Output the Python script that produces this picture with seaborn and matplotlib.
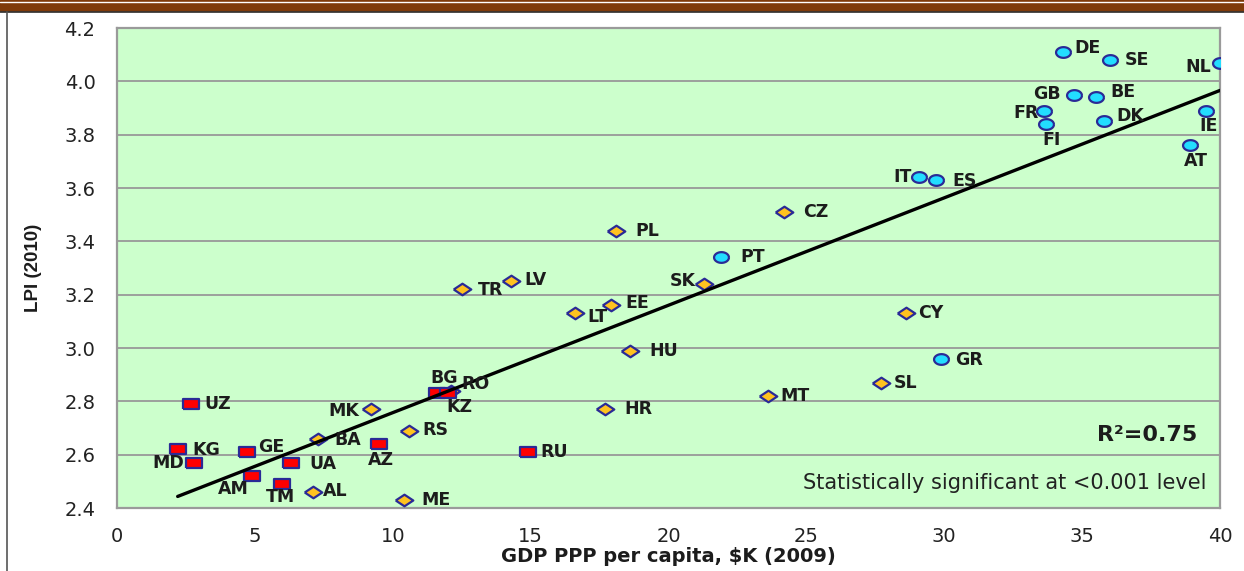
import numpy as np
import pandas as pd
import matplotlib
matplotlib.use('Agg')
import matplotlib.pyplot as plt
from matplotlib.patches import Rectangle
from matplotlib.lines import Line2D
import seaborn as sns

# ── Data ─────────────────────────────────────────────────────
countries = ['DE', 'SE', 'NL', 'GB', 'BE', 'FR', 'FI', 'DK', 'IE', 'AT',
             'IT', 'ES', 'PT', 'GR',
             'CZ', 'PL', 'LV', 'TR', 'SK', 'EE', 'LT', 'HU', 'CY', 'SL',
             'MT', 'HR', 'MK', 'RS', 'BA', 'AL', 'ME', 'RO',
             'UZ', 'KG', 'MD', 'GE', 'UA', 'AM', 'TM', 'AZ', 'RU', 'BG', 'KZ']
gdp = [34.3, 36.0, 40.0, 34.7, 35.5, 33.6, 33.7, 35.8, 39.5, 38.9,
       29.1, 29.7, 21.9, 29.9,
       24.2, 18.1, 14.3, 12.5, 21.3, 17.9, 16.6, 18.6, 28.6, 27.7,
       23.6, 17.7, 9.2, 10.6, 7.3, 7.1, 10.4, 12.1,
       2.7, 2.2, 2.8, 4.7, 6.3, 4.9, 6.0, 9.5, 14.9, 11.6, 12.0]
lpi = [4.11, 4.08, 4.07, 3.95, 3.94, 3.89, 3.84, 3.85, 3.89, 3.76,
       3.64, 3.63, 3.34, 2.96,
       3.51, 3.44, 3.25, 3.22, 3.24, 3.16, 3.13, 2.99, 3.13, 2.87,
       2.82, 2.77, 2.77, 2.69, 2.66, 2.46, 2.43, 2.84,
       2.79, 2.62, 2.57, 2.61, 2.57, 2.52, 2.49, 2.64, 2.61, 2.83, 2.83]
groups = ['EU15'] * 14 + ['NMS'] * 18 + ['CIS'] * 11

# label offsets in pixels (dx, dy, ha)
label_pos = {
    'DE': (12, 4, 'left'), 'SE': (15, 0, 'left'), 'NL': (-9, -4, 'right'),
    'GB': (-13, 1, 'right'), 'BE': (14, 5, 'left'), 'FR': (-5, -2, 'right'),
    'FI': (5, -16, 'center'), 'DK': (12, 5, 'left'), 'IE': (2, -15, 'center'),
    'AT': (6, -16, 'center'), 'IT': (-8, 0, 'right'), 'ES': (16, -1, 'left'),
    'PT': (19, 0, 'left'), 'GR': (14, -1, 'left'), 'CZ': (19, 0, 'left'),
    'PL': (19, 0, 'left'), 'LV': (13, 1, 'left'), 'TR': (16, -1, 'left'),
    'SK': (-9, 3, 'right'), 'EE': (15, 2, 'left'), 'LT': (13, -4, 'left'),
    'HU': (19, 0, 'left'), 'CY': (12, 0, 'left'), 'SL': (13, 0, 'left'),
    'MT': (13, 0, 'left'), 'HR': (19, 0, 'left'), 'MK': (-11, -2, 'right'),
    'RS': (13, 1, 'left'), 'BA': (16, -1, 'left'), 'AL': (10, 1, 'left'),
    'ME': (18, 0, 'left'), 'RO': (11, 7, 'left'), 'UZ': (13, 0, 'left'),
    'KG': (15, -1, 'left'), 'MD': (-10, 0, 'right'), 'GE': (12, 5, 'left'),
    'UA': (19, -1, 'left'), 'AM': (-3, -13, 'right'), 'TM': (-2, -13, 'center'),
    'AZ': (2, -16, 'center'), 'RU': (13, 0, 'left'), 'BG': (7, 15, 'center'),
    'KZ': (11, -14, 'center'),
}

df = pd.DataFrame({'country': countries, 'gdp': gdp, 'lpi': lpi, 'group': groups})

# ── Style ────────────────────────────────────────────────────
sns.set_style('white')
plt.rcParams['font.family'] = ['DejaVu Sans']

fig = plt.figure(figsize=(12.44, 5.71), dpi=100)
ax = fig.add_axes([117 / 1244, 1 - 508 / 571, 1103 / 1244, 480 / 571])
ax.set_facecolor('#ccffcc')

# markers are a bit wider than tall, like in the original
t = np.linspace(0, 2 * np.pi, 40)
ellipse = list(zip(np.cos(t), 0.72 * np.sin(t)))
markers = {
    'EU15': ellipse,
    'NMS': [(-1, 0), (0, 0.66), (1, 0), (0, -0.66), (-1, 0)],
    'CIS': [(-1, -0.66), (1, -0.66), (1, 0.66), (-1, 0.66), (-1, -0.66)],
}
palette = {'EU15': '#22ddff', 'NMS': '#ffc21f', 'CIS': '#ff0000'}
sizes = {'EU15': 115, 'NMS': 160, 'CIS': 130}

for g in ['NMS', 'CIS', 'EU15']:
    sub = df[df['group'] == g]
    sns.scatterplot(data=sub, x='gdp', y='lpi', marker=markers[g],
                    color=palette[g], edgecolor='#2a2a96', linewidth=1.6,
                    s=sizes[g], ax=ax, zorder=4, legend=False)

# regression line over data range
sns.regplot(data=df, x='gdp', y='lpi', scatter=False, ci=None,
            color='black', line_kws={'linewidth': 2.4, 'zorder': 5}, ax=ax)

for c, x, y in zip(countries, gdp, lpi):
    dx, dy, ha = label_pos[c]
    ax.annotate(c, (x, y), xytext=(dx * 0.72, dy * 0.72),
                textcoords='offset points', ha=ha, va='center',
                fontsize=12.5, fontweight='bold', color='#1c1c1c', zorder=6)

ax.set_xlim(0, 40)
ax.set_ylim(2.4, 4.2)
ax.set_xticks(np.arange(0, 41, 5))
ax.set_yticks(np.arange(2.4, 4.21, 0.2))
ax.set_yticklabels([f'{v:.1f}' for v in np.arange(2.4, 4.21, 0.2)])
ax.grid(axis='y', color='#999999', linewidth=1.3)
ax.set_axisbelow(True)
for s in ax.spines.values():
    s.set_color('#9a9a9a')
    s.set_linewidth(1.6)
ax.tick_params(axis='both', direction='out', length=6.5, width=1.2,
               color='#9a9a9a', labelsize=14, labelcolor='#222222')
ax.tick_params(axis='y', pad=9)
ax.tick_params(axis='x', pad=7)

ax.set_xlabel('GDP PPP per capita, $K (2009)', fontsize=14,
              fontweight='bold', color='#1c1c1c', labelpad=1)
ax.set_ylabel('LPI (2010)', fontsize=13.5, fontweight='bold',
              color='#1c1c1c', labelpad=16, family='Liberation Sans')

ax.text(0.979, 0.152, 'R²=0.75', transform=ax.transAxes, ha='right',
        va='center', fontsize=16, fontweight='bold', color='#1c1c1c')
ax.text(0.988, 0.052, 'Statistically significant at <0.001 level',
        transform=ax.transAxes, ha='right', va='center', fontsize=15,
        color='#222222')

# page decoration: brown band on top, thin frame line on the left
fig.add_artist(Rectangle((0, 1 - 11 / 571), 1, 11 / 571,
                         transform=fig.transFigure, color='#7f3a0a', zorder=0))
fig.add_artist(Line2D([0, 1], [1 - 2 / 571] * 2, transform=fig.transFigure,
                      color='white', linewidth=1))
fig.add_artist(Line2D([0, 1], [1 - 12 / 571] * 2, transform=fig.transFigure,
                      color='#333333', linewidth=1.2))
fig.add_artist(Line2D([7 / 1244] * 2, [0, 1 - 12 / 571],
                      transform=fig.transFigure, color='#555555', linewidth=1.2))

fig.savefig('out.png', dpi=100)
